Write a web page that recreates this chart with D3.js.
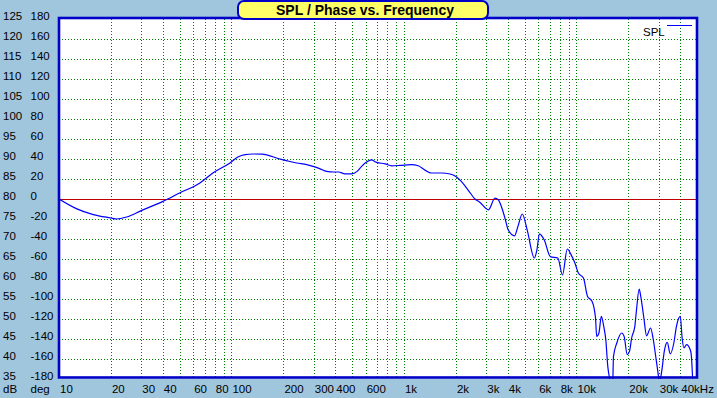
<!DOCTYPE html>
<html>
<head>
<meta charset="utf-8">
<script src="https://cdn.jsdelivr.net/npm/d3@7"></script>
<style>
  body { margin: 0; background: #a0c6de; }
  svg { display: block; font-family: Arial, "Liberation Sans", sans-serif; }
</style>
</head>
<body>
<div id="chart"></div>
<script>
// measured SPL curve (Hz, dB)
const freqs = [10, 12.6, 15.8, 20, 21.6, 24.7, 30, 40, 50, 65.6, 78, 98, 109, 120, 133, 150, 191, 208, 239, 273, 297, 324, 356, 390, 417, 455, 497, 535, 568, 610, 647, 693, 777, 850, 950, 1100, 1210, 1330, 1440, 1650, 1850, 2000, 2150, 2350, 2580, 2760, 3090, 3370, 3520, 3850, 4020, 4380, 4580, 4850, 5180, 5700, 5900, 6100, 6500, 7060, 7800, 8300, 8850, 9300, 9800, 10250, 10980, 11600, 12330, 12900, 13100, 13500, 13940, 14400, 14800, 15200, 15500, 16200, 16400, 17140, 18300, 18900, 19700, 20300, 20900, 21800, 22300, 23100, 23600, 24600, 25500, 26900, 27800, 28900, 29800, 30200, 31300, 32300, 33600, 35000, 36700, 38000, 40000, 41000, 42000, 43500, 45700, 46300, 47300];
const spl = [80, 77.6, 76.1, 75.25, 75, 75.5, 77.1, 79.4, 81.5, 84, 86.5, 89, 90.5, 91.1, 91.25, 91.2, 90, 89.6, 89, 88.6, 88.15, 87.6, 86.9, 86.75, 86.75, 86.3, 86.3, 86.9, 88.15, 89.3, 89.8, 89.15, 88.8, 88.3, 88.4, 88.6, 88.3, 87.15, 86.5, 86.5, 86.25, 85.65, 84.4, 82.3, 80, 79.15, 77.3, 80.2, 79.8, 75.25, 72.3, 70.8, 73.15, 76.25, 72.3, 65.25, 67.3, 71.3, 69.8, 65.6, 65.25, 61, 67.5, 66.1, 64, 61.5, 60.25, 55.65, 54.4, 50.25, 45.65, 46.5, 50.65, 48.15, 44.8, 38.1, 35.6, 33, 40.65, 44, 46.5, 45.65, 41.1, 41.9, 45.25, 48.15, 52.3, 57.5, 55.65, 50.25, 45.8, 47.75, 45.25, 40.25, 36.1, 34, 37.3, 41.9, 44.15, 41.3, 44, 48.15, 50.65, 45.25, 42.75, 43.6, 42.3, 41.1, 34];

// axis ticks
const dbTicks = [125, 120, 115, 110, 105, 100, 95, 90, 85, 80, 75, 70, 65, 60, 55, 50, 45, 40, 35];
const degTicks = [180, 160, 140, 120, 100, 80, 60, 40, 20, 0, -20, -40, -60, -80, -100, -120, -140, -160, -180];
const freqTicks = [10, 20, 30, 40, 60, 80, 100, 200, 300, 400, 600, 1000, 2000, 3000, 4000, 6000, 8000, 10000, 20000, 30000, 40000];
const freqLabels = ['10', '20', '30', '40', '60', '80', '100', '200', '300', '400', '600', '1k', '2k', '3k', '4k', '6k', '8k', '10k', '20k', '30k', '40kHz'];

const width = 717, height = 398;
const plotLeft = 59, plotRight = 697, plotTop = 19, plotBottom = 379;

const svg = d3.select('#chart').append('svg')
    .attr('width', width)
    .attr('height', height);

svg.append('rect')
    .attr('width', width)
    .attr('height', height)
    .attr('fill', '#a0c6de');

const x = d3.scaleLog().domain([10, 50000]).range([plotLeft, plotRight]);
const yDb = d3.scaleLinear().domain([35, 125]).range([plotBottom, plotTop]);
const yDeg = d3.scaleLinear().domain([-180, 180]).range([plotBottom, plotTop]);

// plot background
svg.append('rect')
    .attr('x', plotLeft)
    .attr('y', plotTop)
    .attr('width', plotRight - plotLeft)
    .attr('height', plotBottom - plotTop)
    .attr('fill', '#ffffff');

// vertical grid at 2..9 of every decade
const gridFreqs = [];
[10, 100, 1000, 10000].forEach(dec => {
    for (let m = 1; m <= 9; m++) {
        const f = dec * m;
        if (f > 10 && f < 50000) gridFreqs.push(f);
    }
});

svg.append('g').selectAll('line')
    .data(gridFreqs)
    .enter()
    .append('line')
    .attr('x1', d => Math.round(x(d)) + 0.5)
    .attr('x2', d => Math.round(x(d)) + 0.5)
    .attr('y1', plotTop)
    .attr('y2', plotBottom)
    .attr('stroke', '#008000')
    .attr('stroke-dasharray', '1,2')
    .attr('shape-rendering', 'crispEdges');

// horizontal grid
svg.append('g').selectAll('line')
    .data(degTicks.filter(d => d !== 0 && Math.abs(d) !== 180))
    .enter()
    .append('line')
    .attr('x1', plotLeft)
    .attr('x2', plotRight)
    .attr('y1', d => Math.round(yDeg(d)) + 0.5)
    .attr('y2', d => Math.round(yDeg(d)) + 0.5)
    .attr('stroke', '#008000')
    .attr('stroke-dasharray', '1,2')
    .attr('shape-rendering', 'crispEdges');

// zero line
svg.append('line')
    .attr('x1', plotLeft)
    .attr('x2', plotRight)
    .attr('y1', Math.round(yDeg(0)) + 0.5)
    .attr('y2', Math.round(yDeg(0)) + 0.5)
    .attr('stroke', '#c00000')
    .attr('shape-rendering', 'crispEdges');

// clip the curve to the plot
svg.append('clipPath')
    .attr('id', 'plot-clip')
    .append('rect')
    .attr('x', plotLeft)
    .attr('y', plotTop)
    .attr('width', plotRight - plotLeft)
    .attr('height', plotBottom - plotTop);

const line = d3.line()
    .x((d, i) => x(freqs[i]))
    .y(d => yDb(d))
    .curve(d3.curveMonotoneX);

svg.append('path')
    .datum(spl)
    .attr('clip-path', 'url(#plot-clip)')
    .attr('d', line)
    .attr('fill', 'none')
    .attr('stroke', '#0000ff')
    .attr('stroke-width', 1.2);

// frame
svg.append('rect')
    .attr('x', plotLeft)
    .attr('y', 18)
    .attr('width', plotRight - plotLeft)
    .attr('height', 377.5 - 18)
    .attr('fill', 'none')
    .attr('stroke', '#0000c8')
    .attr('stroke-width', 2.6);

// left labels
svg.append('g').selectAll('text')
    .data(dbTicks)
    .enter()
    .append('text')
    .attr('x', 3)
    .attr('y', d => yDb(d) + 1)
    .attr('font-size', 11.5)
    .text(d => d);

svg.append('g').selectAll('text')
    .data(degTicks)
    .enter()
    .append('text')
    .attr('x', 30.5)
    .attr('y', d => yDeg(d) + 1)
    .attr('font-size', 11.5)
    .text(d => d);

svg.append('text').attr('x', 3).attr('y', 393).attr('font-size', 11.5).text('dB');
svg.append('text').attr('x', 30.5).attr('y', 393).attr('font-size', 11.5).text('deg');

// frequency labels
svg.append('g').selectAll('text')
    .data(freqTicks)
    .enter()
    .append('text')
    .attr('x', d => x(d) + 1)
    .attr('y', 393)
    .attr('font-size', 11.5)
    .text((d, i) => freqLabels[i]);

// title box
svg.append('rect')
    .attr('x', 238)
    .attr('y', 1)
    .attr('width', 250)
    .attr('height', 18)
    .attr('rx', 6)
    .attr('fill', '#ffff66')
    .attr('stroke', '#0000c8')
    .attr('stroke-width', 2);

svg.append('text')
    .attr('x', 365)
    .attr('y', 15)
    .attr('text-anchor', 'middle')
    .attr('font-size', 14)
    .attr('font-weight', 'bold')
    .text('SPL / Phase vs. Frequency');

// legend
svg.append('text')
    .attr('x', 643)
    .attr('y', 35.5)
    .attr('font-size', 11.5)
    .text('SPL');

svg.append('line')
    .attr('x1', 667)
    .attr('x2', 692)
    .attr('y1', 25.5)
    .attr('y2', 25.5)
    .attr('stroke', '#0000ff')
    .attr('shape-rendering', 'crispEdges');
</script>
</body>
</html>
